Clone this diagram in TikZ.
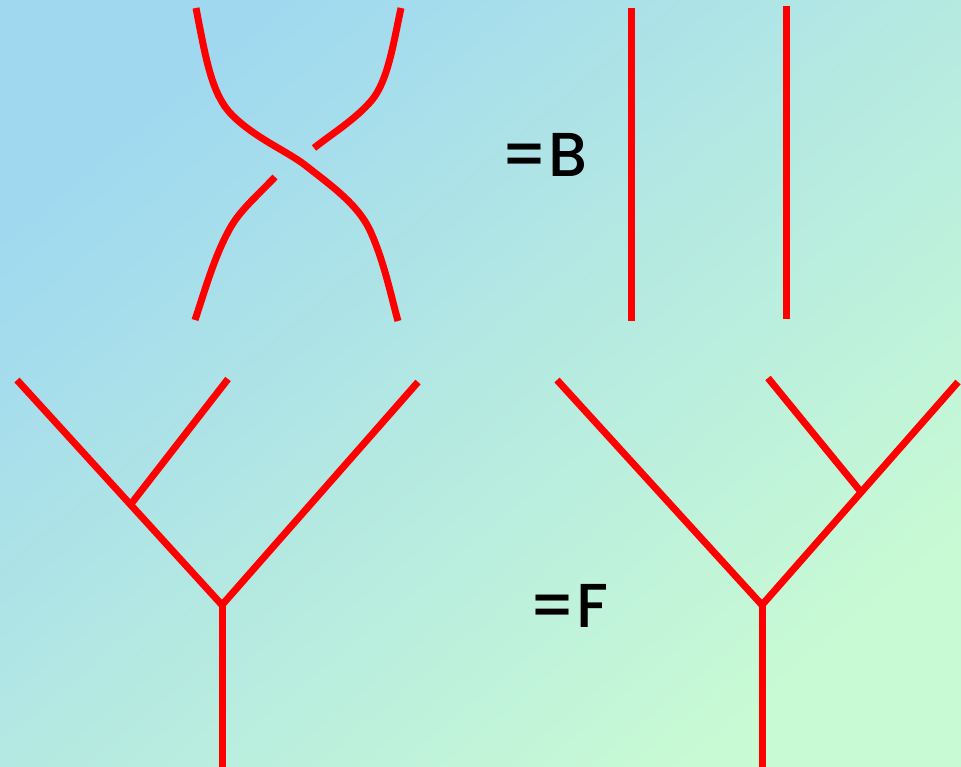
\documentclass[tikz,border=0pt]{standalone}
\usepackage{fontspec}
\setsansfont{Poppins}[BoldFont={Poppins Medium}]
\usetikzlibrary{positioning}
\definecolor{skytop}{RGB}{160,216,240}
\definecolor{mintbot}{RGB}{200,250,212}
\definecolor{strandred}{RGB}{255,0,0}

\begin{document}
\begin{tikzpicture}[
  x=1pt, y=-1pt,
  every node/.style={font=\sffamily\bfseries\fontsize{62}{62}\selectfont},
  strand/.style={draw=strandred, line width=7pt},
  eqlabel/.style={inner sep=0pt, text=black}
]

% background
\shade[top color=skytop, bottom color=mintbot, shading angle=40]
  (0,0) rectangle (961,767);
\useasboundingbox (0,0) rectangle (961,767);

% braid crossing
\draw[strand] (196,8) .. controls (206,60) and (212,95) .. (232,115)
  .. controls (255,138) and (285,150) .. (305,165)
  .. controls (330,185) and (360,205) .. (372,235)
  .. controls (385,265) and (392,300) .. (398,321);
\draw[strand] (401,8) .. controls (393,45) and (388,80) .. (372,100)
  .. controls (355,120) and (330,135) .. (314,148);
\draw[strand] (275,177) .. controls (255,198) and (238,212) .. (228,232)
  .. controls (214,258) and (205,290) .. (195,320);

% two straight strands
\draw[strand] (631,8) -- (631,321);
\draw[strand] (786,6) -- (786,319);

\node[eqlabel] (eqB) at (544,155) {=B};
\node[eqlabel] (eqF) at (568,606) {=F};

% left tree
\coordinate (lroot) at (222,767);
\coordinate (lfork) at (222,605);
\coordinate (lleft) at (17,380);
\coordinate (lright) at (418,382);
\coordinate (lmid) at (131,504);
\coordinate (linner) at (228,379);
\draw[strand] (lroot) -- (lfork);
\draw[strand] (lfork) -- (lleft);
\draw[strand] (lfork) -- (lright);
\draw[strand] (lmid) -- (linner);

% right tree
\coordinate (rroot) at (762,767);
\coordinate (rfork) at (762,605);
\coordinate (rleft) at (557,380);
\coordinate (rright) at (958,382);
\coordinate (rmid) at (861,492);
\coordinate (rinner) at (768,378);
\draw[strand] (rroot) -- (rfork);
\draw[strand] (rfork) -- (rleft);
\draw[strand] (rfork) -- (rright);
\draw[strand] (rmid) -- (rinner);

\end{tikzpicture}
\end{document}
